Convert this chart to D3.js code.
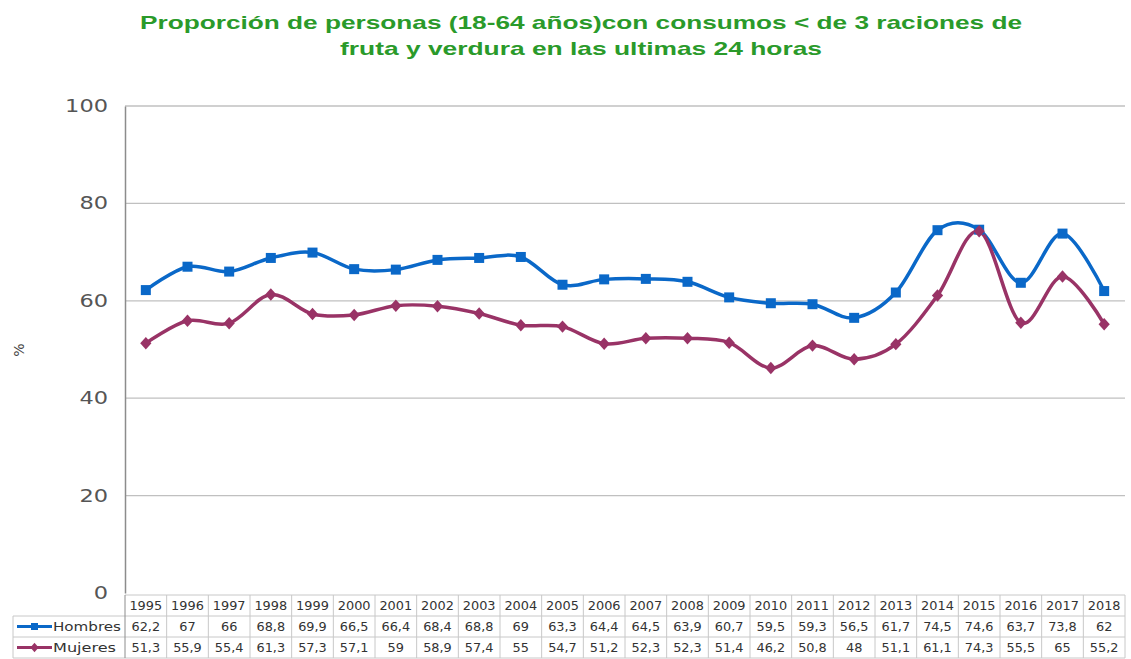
<!DOCTYPE html>
<html><head><meta charset="utf-8">
<script src="https://cdn.jsdelivr.net/npm/d3@7"></script>
<style>body{margin:0;background:#fff}svg{display:block}</style>
</head><body>
<svg id="c" width="1131" height="659"></svg>
<script>
const years = ["1995","1996","1997","1998","1999","2000","2001","2002","2003","2004","2005","2006","2007","2008","2009","2010","2011","2012","2013","2014","2015","2016","2017","2018"];
const hombres = [62.2,67,66,68.8,69.9,66.5,66.4,68.4,68.8,69,63.3,64.4,64.5,63.9,60.7,59.5,59.3,56.5,61.7,74.5,74.6,63.7,73.8,62];
const mujeres = [51.3,55.9,55.4,61.3,57.3,57.1,59,58.9,57.4,55,54.7,51.2,52.3,52.3,51.4,46.2,50.8,48,51.1,61.1,74.3,55.5,65,55.2];
const yTicks = [0,20,40,60,80,100];
const seriesNames = ["Hombres","Mujeres"];
const titleLines = ["Proporción de personas (18-64 años)con consumos < de 3 raciones de","fruta y verdura en las ultimas 24 horas"];

const fmt = v => String(v).replace(".", ",");
const svg = d3.select("#c");
const L = 125, R = 1125, T = 106, B = 593;
const x = d3.scaleBand().domain(years).range([L, R]);
const y = d3.scaleLinear().domain([0, 100]).range([B, T]);
const cx = d => x(d) + x.bandwidth() / 2;

// title
const tt = svg.append("g").attr("font-family", "Liberation Sans, Arial, sans-serif")
  .attr("font-weight", "bold").attr("fill", "#2a9a2a").attr("font-size", 19).attr("text-anchor", "middle");
tt.append("text").attr("x", 581).attr("y", 29).text(titleLines[0])
  .attr("textLength", 882).attr("lengthAdjust", "spacingAndGlyphs");
tt.append("text").attr("x", 581).attr("y", 55).text(titleLines[1])
  .attr("textLength", 482).attr("lengthAdjust", "spacingAndGlyphs");

// gridlines
svg.append("g").selectAll("line").data(yTicks.filter(t => t > 0)).join("line")
  .attr("x1", L).attr("x2", R).attr("y1", d => y(d)).attr("y2", d => y(d))
  .attr("stroke", "#c0c0c0").attr("stroke-width", 1.3);

// y axis
const ya = svg.append("g").attr("transform", `translate(${L},0)`)
  .call(d3.axisLeft(y).tickValues(yTicks).tickSize(0).tickPadding(17));
ya.select(".domain").attr("stroke", "#8c8c8c").attr("stroke-width", 1.5);
ya.selectAll("text").attr("font-family", "DejaVu Sans, sans-serif").attr("font-size", 17).attr("fill", "#555")
  .attr("textLength", function () { return this.textContent.length * 14.3; })
  .attr("lengthAdjust", "spacingAndGlyphs");

svg.append("text").attr("transform", "translate(24,350) rotate(-90)")
  .attr("text-anchor", "middle").attr("font-family", "DejaVu Sans, sans-serif")
  .attr("font-size", 14).attr("fill", "#444").text("%");

// lines
const line = d3.line().x((d, i) => cx(years[i])).y(d => y(d)).curve(d3.curveCardinal.tension(0));
const colors = ["#0a68c8", "#993366"];
[hombres, mujeres].forEach((s, k) => {
  svg.append("path").datum(s).attr("d", line).attr("fill", "none")
    .attr("stroke", colors[k]).attr("stroke-width", 3.5).attr("stroke-linejoin", "round");
});
svg.append("g").selectAll("rect").data(hombres).join("rect")
  .attr("x", (d, i) => cx(years[i]) - 5).attr("y", d => y(d) - 5)
  .attr("width", 10).attr("height", 10).attr("fill", colors[0]);
svg.append("g").selectAll("path").data(mujeres).join("path")
  .attr("d", d3.symbol(d3.symbolDiamond, 70))
  .attr("transform", (d, i) => `translate(${cx(years[i])},${y(d)}) scale(1.25,0.8)`)
  .attr("fill", colors[1]);

// data table
const rowTop = [595, 616, 637], rowH = 21;
const tg = svg.append("g").attr("font-family", "DejaVu Sans, sans-serif").attr("font-size", 11.5).attr("fill", "#333");
const gridC = "#c8c8c8";
tg.append("line").attr("x1", L).attr("x2", R).attr("y1", rowTop[0]).attr("y2", rowTop[0]).attr("stroke", gridC);
[rowTop[1], rowTop[2], rowTop[2] + rowH].forEach(yy =>
  tg.append("line").attr("x1", 13).attr("x2", R).attr("y1", yy).attr("y2", yy).attr("stroke", gridC));
years.forEach(yr => tg.append("line").attr("x1", x(yr) + x.bandwidth()).attr("x2", x(yr) + x.bandwidth())
  .attr("y1", rowTop[0]).attr("y2", rowTop[2] + rowH).attr("stroke", gridC));
tg.append("line").attr("x1", L).attr("x2", L).attr("y1", rowTop[0]).attr("y2", rowTop[2] + rowH).attr("stroke", "#8c8c8c");
tg.append("line").attr("x1", 13).attr("x2", 13).attr("y1", rowTop[1]).attr("y2", rowTop[2] + rowH).attr("stroke", gridC);

const cw = s => s.replace(",", "").length * 8.2 + (s.includes(",") ? 4 : 0);
tg.selectAll("text.yr").data(years).join("text").attr("class", "yr")
  .attr("x", d => cx(d)).attr("y", rowTop[0] + 15).attr("text-anchor", "middle").text(d => d)
  .attr("textLength", d => cw(d)).attr("lengthAdjust", "spacingAndGlyphs");
[hombres, mujeres].forEach((s, k) => {
  tg.selectAll("text.v" + k).data(s).join("text").attr("class", "v" + k)
    .attr("x", (d, i) => cx(years[i])).attr("y", rowTop[k + 1] + 15).attr("text-anchor", "middle").text(d => fmt(d))
    .attr("textLength", d => cw(fmt(d))).attr("lengthAdjust", "spacingAndGlyphs");
  const ly = rowTop[k + 1] + rowH / 2;
  tg.append("line").attr("x1", 17).attr("x2", 52).attr("y1", ly).attr("y2", ly).attr("stroke", colors[k]).attr("stroke-width", 3);
  if (k === 0) tg.append("rect").attr("x", 31).attr("y", ly - 3.5).attr("width", 7).attr("height", 7).attr("fill", colors[0]);
  else tg.append("path").attr("d", d3.symbol(d3.symbolDiamond, 40)).attr("transform", `translate(34.5,${ly}) scale(1.2,0.8)`).attr("fill", colors[1]);
  tg.append("text").attr("x", 53).attr("y", rowTop[k + 1] + 15).text(seriesNames[k])
    .attr("textLength", k === 0 ? 68 : 63).attr("lengthAdjust", "spacingAndGlyphs");
});
</script>
</body></html>
